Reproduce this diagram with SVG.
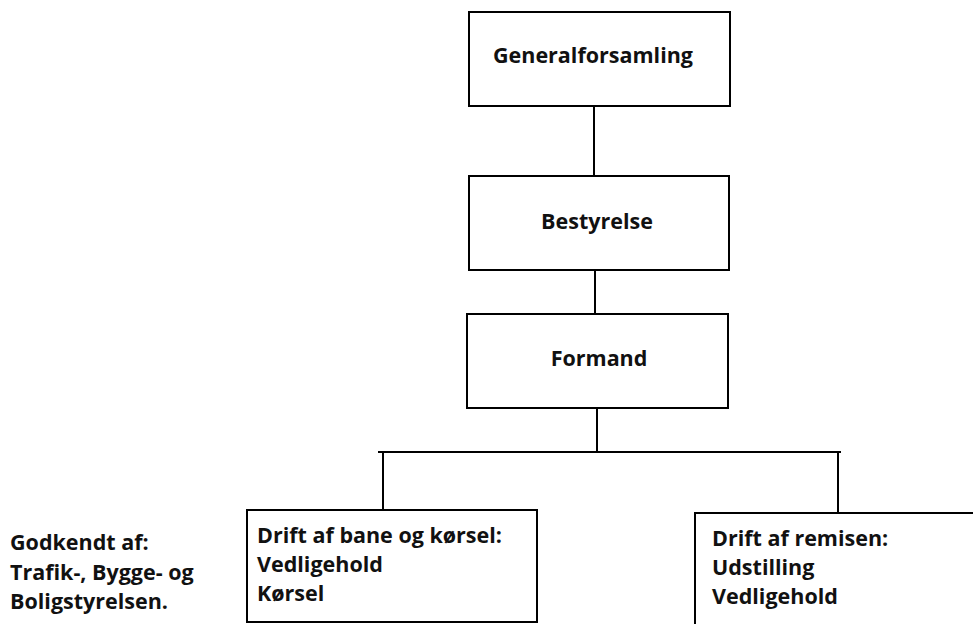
<svg xmlns="http://www.w3.org/2000/svg" width="973" height="624" viewBox="0 0 973 624">
<style>
.box{fill:#fff;stroke:#000;stroke-width:2}
.ln{stroke:#000;stroke-width:2;fill:none}
.t{font-family:"Open Sans","Noto Sans",sans-serif;font-weight:bold;font-size:21.5px;fill:#111}
.c{text-anchor:middle}
</style>
<rect width="973" height="624" fill="#fff"/>
<g id="connectors">
<line class="ln" x1="594" y1="106" x2="594" y2="176"/>
<line class="ln" x1="595" y1="270" x2="595" y2="318"/>
<line class="ln" x1="597" y1="408" x2="597" y2="452"/>
<line class="ln" x1="378" y1="452" x2="841" y2="452"/>
<line class="ln" x1="383" y1="451" x2="383" y2="510"/>
<line class="ln" x1="838" y1="452" x2="838" y2="513"/>
</g>
<g id="generalforsamling">
<rect class="box" x="469" y="12" width="261" height="94"/>
<text class="t c" x="593" y="63">Generalforsamling</text>
</g>
<g id="bestyrelse">
<rect class="box" x="469" y="176" width="260" height="94"/>
<text class="t c" x="597" y="229">Bestyrelse</text>
</g>
<g id="formand">
<rect class="box" x="467" y="314" width="261" height="94"/>
<text class="t c" x="599" y="366">Formand</text>
</g>
<g id="drift-bane">
<rect class="box" x="247" y="510" width="290" height="112"/>
<text class="t" x="257" y="543">Drift af bane og kørsel:</text>
<text class="t" x="257" y="572">Vedligehold</text>
<text class="t" x="257" y="601">Kørsel</text>
</g>
<g id="drift-remisen">
<rect class="box" x="695" y="513" width="290" height="120"/>
<text class="t" x="712" y="546">Drift af remisen:</text>
<text class="t" x="712" y="575">Udstilling</text>
<text class="t" x="712" y="604">Vedligehold</text>
</g>
<g id="godkendt">
<text class="t" x="10" y="550">Godkendt af:</text>
<text class="t" x="10" y="580">Trafik-, Bygge- og</text>
<text class="t" x="10" y="609">Boligstyrelsen.</text>
</g>
</svg>
